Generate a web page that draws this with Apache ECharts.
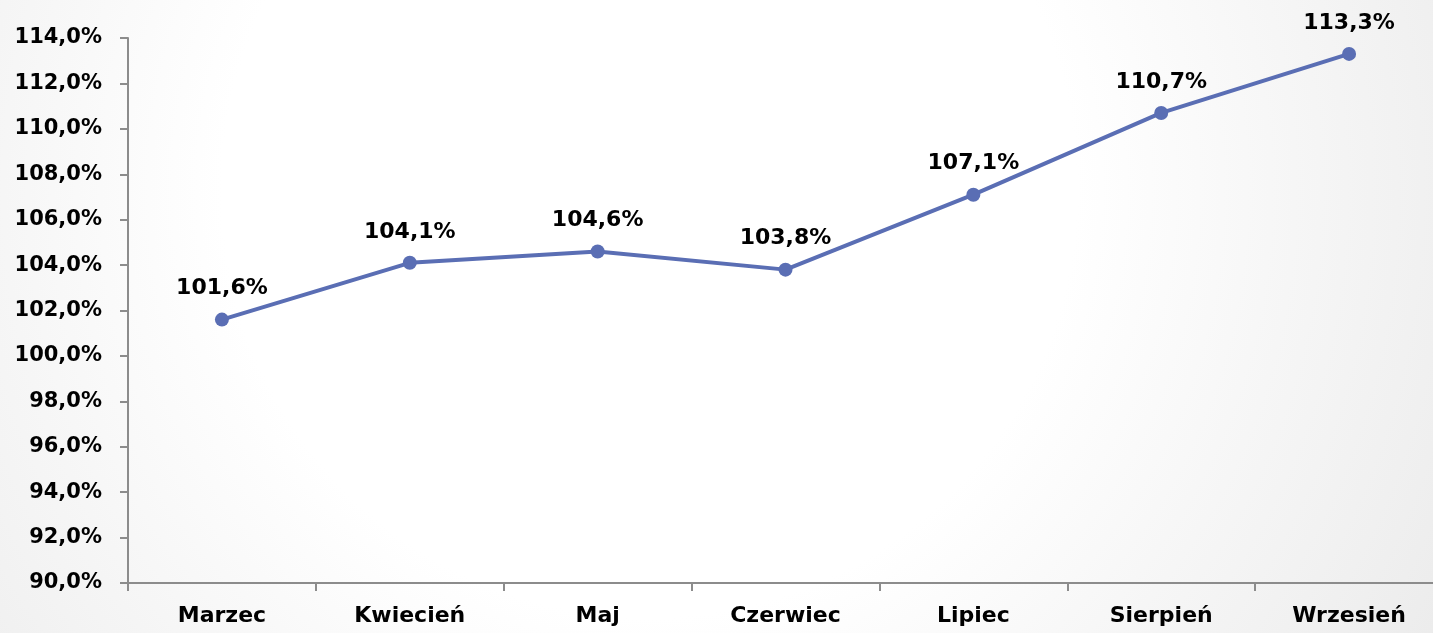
<!DOCTYPE html>
<html><head><meta charset="utf-8">
<script src="https://cdn.jsdelivr.net/npm/echarts@6/dist/echarts.min.js"></script>
<style>html,body{margin:0;padding:0;overflow:hidden;width:1433px;height:633px;}#c{width:1443px;height:633px;}</style>
</head><body><div id="c"></div>
<script>
const categories = ['Marzec','Kwiecień','Maj','Czerwiec','Lipiec','Sierpień','Wrzesień'];
const values = [101.6, 104.1, 104.6, 103.8, 107.1, 110.7, 113.3];
const yMin = 90, yMax = 114, yStep = 2;
const fmt = v => v.toFixed(1).replace('.', ',') + '%';
const FONT = 'DejaVu Sans';
const chart = echarts.init(document.getElementById('c'));
chart.setOption({
  backgroundColor: {
    type: 'radial', x: 0.45, y: 0.3, r: 1.5,
    colorStops: [{offset: 0, color: '#ffffff'}, {offset: 0.45, color: '#ffffff'}, {offset: 0.68, color: '#f6f6f6'}, {offset: 1, color: '#eaeaea'}]
  },
  animation: false,
  grid: {left: 128, right: 0, top: 38, bottom: 50, containLabel: false},
  xAxis: {
    type: 'category', data: categories, boundaryGap: true,
    axisLine: {lineStyle: {color: '#8c8c8c', width: 2}},
    axisTick: {show: true, length: 8, lineStyle: {color: '#8c8c8c', width: 2}},
    axisLabel: {color: '#000', fontFamily: FONT, fontWeight: 'bold', fontSize: 22, margin: 22}
  },
  yAxis: {
    type: 'value', min: yMin, max: yMax, interval: yStep,
    splitLine: {show: false},
    axisLine: {show: true, lineStyle: {color: '#8c8c8c', width: 2}},
    axisTick: {show: true, length: 8, lineStyle: {color: '#8c8c8c', width: 2}},
    axisLabel: {color: '#000', fontFamily: FONT, fontWeight: 'bold', fontSize: 21, margin: 26, formatter: v => fmt(v)}
  },
  series: [{
    type: 'line', data: values,
    lineStyle: {color: '#5a6eb4', width: 4},
    itemStyle: {color: '#5a6eb4'},
    symbol: 'circle', symbolSize: 14,
    label: {show: true, position: 'top', distance: 13, color: '#000', fontFamily: FONT, fontWeight: 'bold', fontSize: 22, formatter: p => fmt(p.value)}
  }]
});
</script></body></html>
